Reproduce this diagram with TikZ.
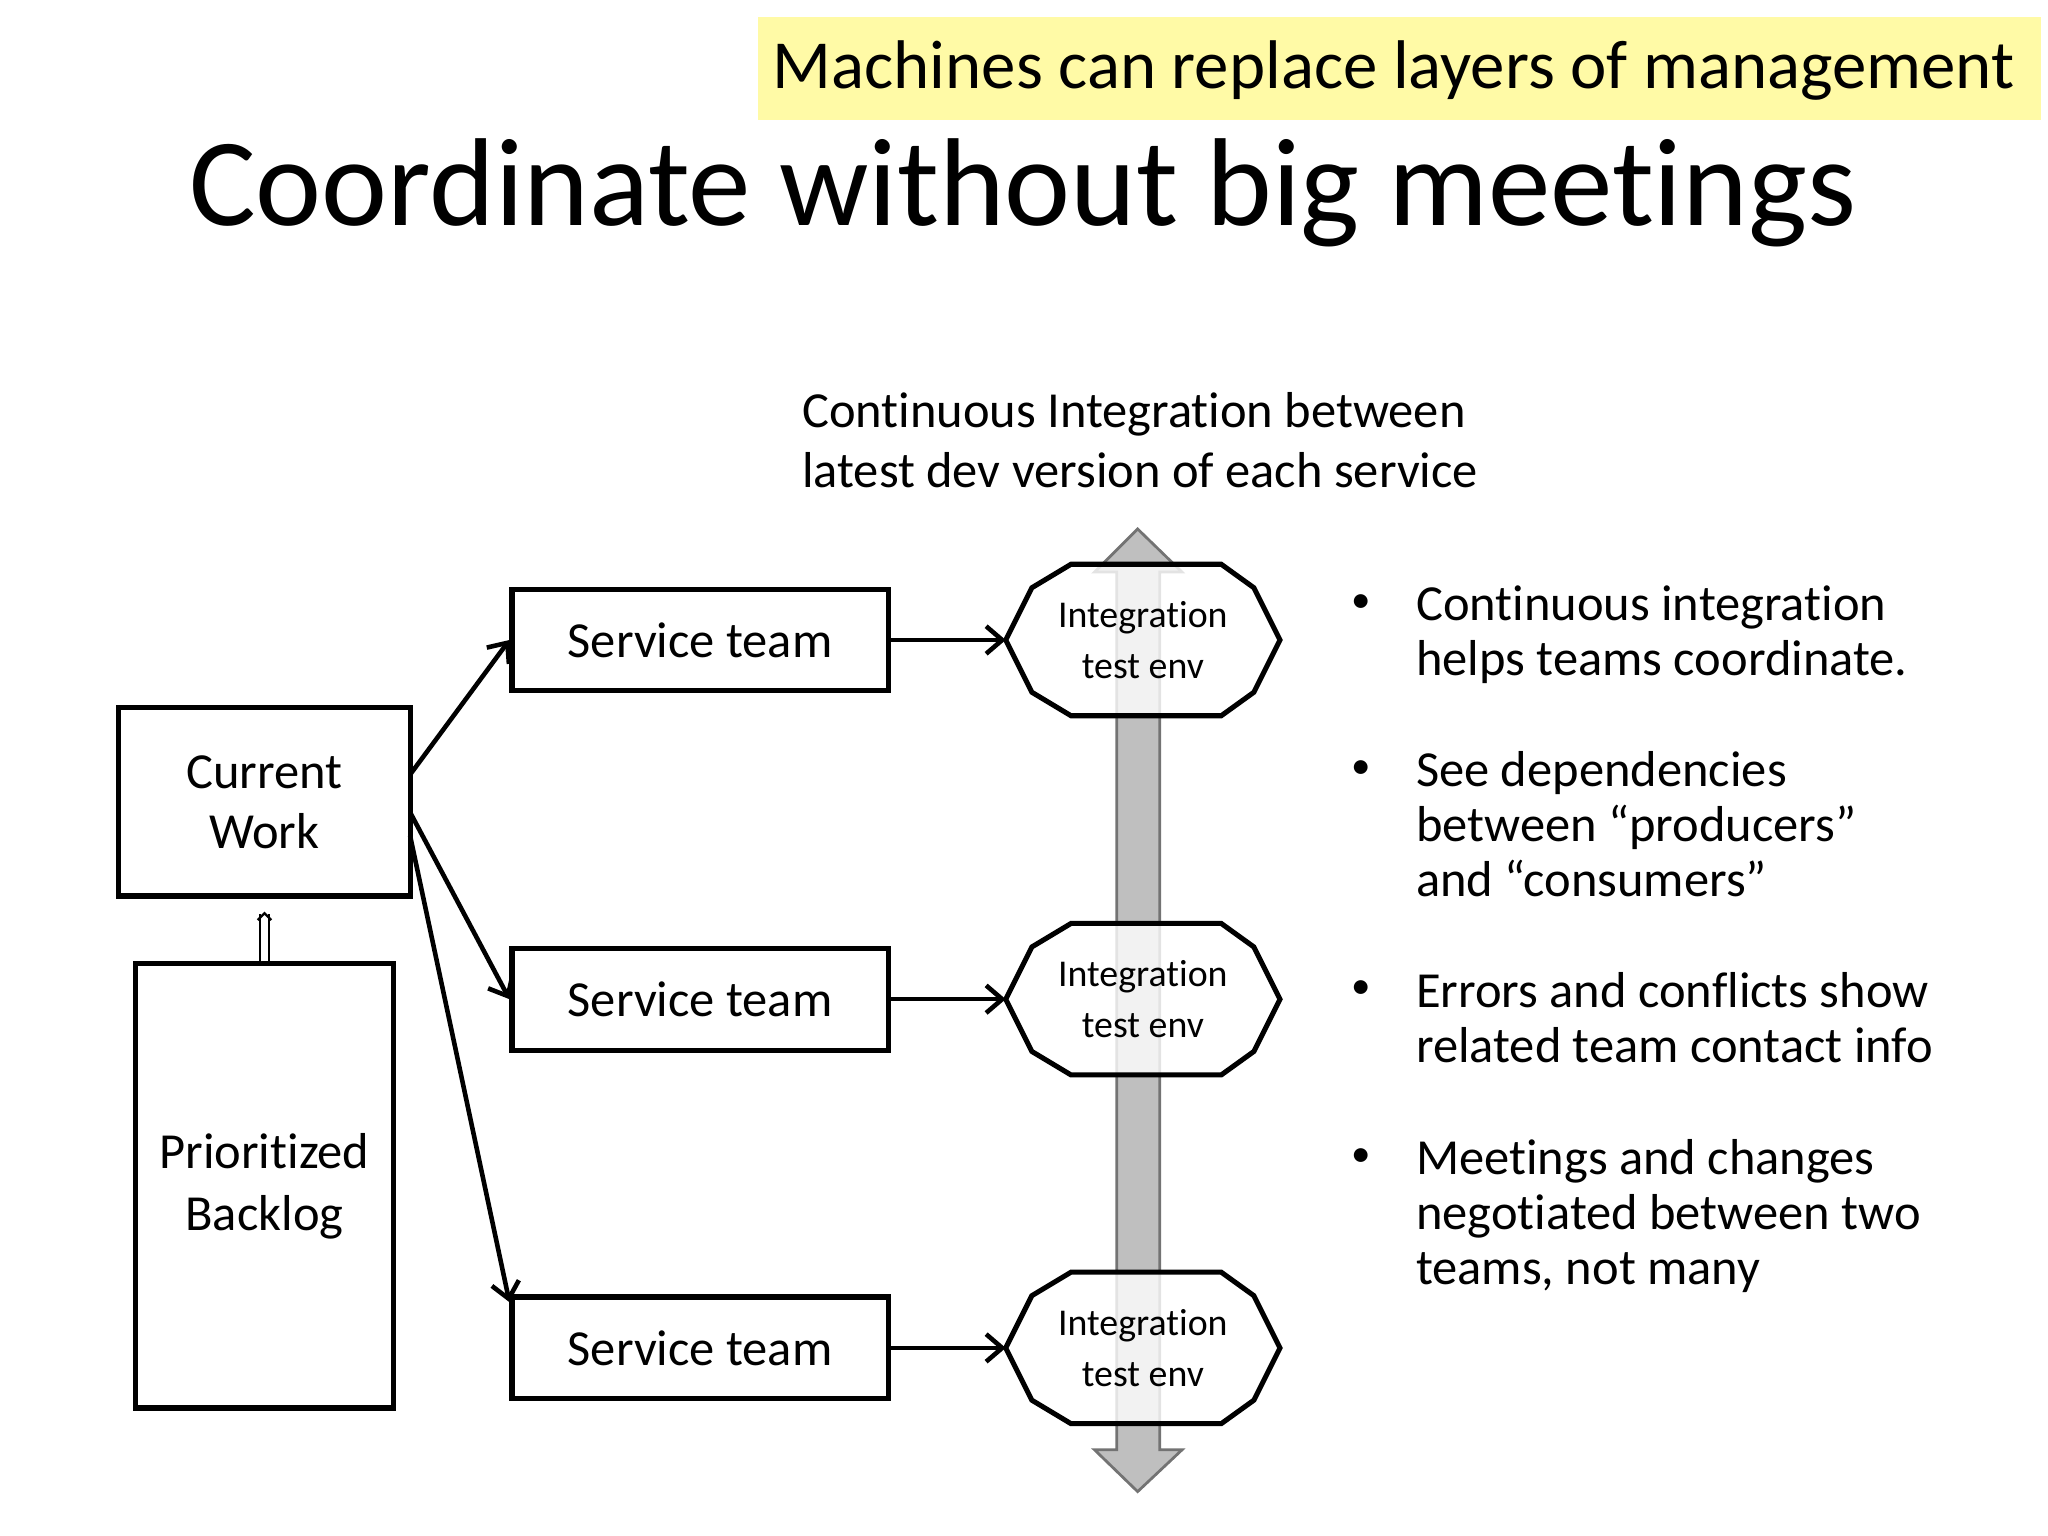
\documentclass[tikz,border=0pt]{standalone}
\usepackage{fontspec}
\setmainfont{Carlito}[Ligatures={NoCommon}]
\usetikzlibrary{arrows.meta}
\begin{document}
\begin{tikzpicture}[x=0.02cm,y=-0.02cm,
  box/.style={draw,line width=2.2pt,inner sep=0},
  conn/.style={line width=2pt,-{Straight Barb[length=7pt,width=12pt,line width=2pt]}},
  body/.style={font=\fontsize{22}{26}\selectfont},
  small/.style={font=\fontsize{16.5}{22}\selectfont,align=center},
  blt/.style={anchor=north west,align=left,font=\fontsize{22}{24}\selectfont}]
\useasboundingbox (0,0) rectangle (1568,1176);
% banner
\fill[yellow!35] (580,13) rectangle (1563,92);
\node[font=\fontsize{30}{34}\selectfont] (banner) at (1067,54) {Machines can replace layers of management};
\node[font=\fontsize{54.5}{60}\selectfont] (title) at (783,148) {Coordinate without big meetings};
\node[anchor=west,align=left,font=\fontsize{22}{26.5}\selectfont] (ci) at (608,337) {Continuous Integration between\\latest dev version of each service};
% big double arrow
\filldraw[fill=black!25,draw=black!55,line width=1.2pt]
 (855,438) -- (838,438) -- (871,405) -- (905,438) -- (888,438) -- (888,1110) -- (905,1110) -- (871,1142) -- (838,1110) -- (855,1110) -- cycle;
% octagons
\foreach \n/\y in {o1/490,o2/765,o3/1032}{
  \filldraw[draw=black,line width=2.2pt,fill=white,fill opacity=0.8]
   (770,\y) -- (790,\y-40) -- (820,\y-58) -- (935,\y-58) -- (960,\y-40) -- (980,\y) -- (960,\y+40) -- (935,\y+58) -- (820,\y+58) -- (790,\y+40) -- cycle;
  \coordinate (\n) at (770,\y);
  \node[small] (\n t) at (875,\y) {Integration\\test env};
}
% service teams
\foreach \n/\y in {s1/490,s2/765,s3/1032}{
  \node[box,minimum width=288*0.02cm,minimum height=78*0.02cm,body] (\n) at (536,\y) {Service team};
}
\draw[conn] (s1.east) -- (o1);
\draw[conn] (s2.east) -- (o2);
\draw[conn] (s3.east) -- (o3);
% current work & backlog
\node[box,minimum width=223*0.02cm,minimum height=144*0.02cm,body,align=center] (cw) at (202.5,614) {Current\\Work};
\node[box,minimum width=197*0.02cm,minimum height=340*0.02cm,align=center,font=\fontsize{22}{27}\selectfont] (bl) at (202.5,908) {Prioritized\\Backlog};
\draw[double,double distance=3pt,line width=1pt,-{Straight Barb[length=3pt]}] (bl.north) -- ([yshift=-0.2cm]cw.south);
\coordinate (c1) at (314,593);
\coordinate (c2) at (314,622);
\coordinate (c3) at (314,640);
\draw[conn] (c1) -- (s1.west);
\draw[conn] (c2) -- (s2.west);
\draw[conn] (c3) -- ([yshift=0.7cm]s3.west);
% bullets
\foreach \y/\t in {442/{Continuous integration\\helps teams coordinate.},
  569/{See dependencies\\between “producers”\\and “consumers”},
  738/{Errors and conflicts show\\related team contact info},
  866/{Meetings and changes\\negotiated between two\\teams, not many}}{
  \node[blt] at (1078,\y) {\t};
  \node[font=\fontsize{17}{20}\selectfont] at (1042,\y+20) {•};
}
\end{tikzpicture}
\end{document}
